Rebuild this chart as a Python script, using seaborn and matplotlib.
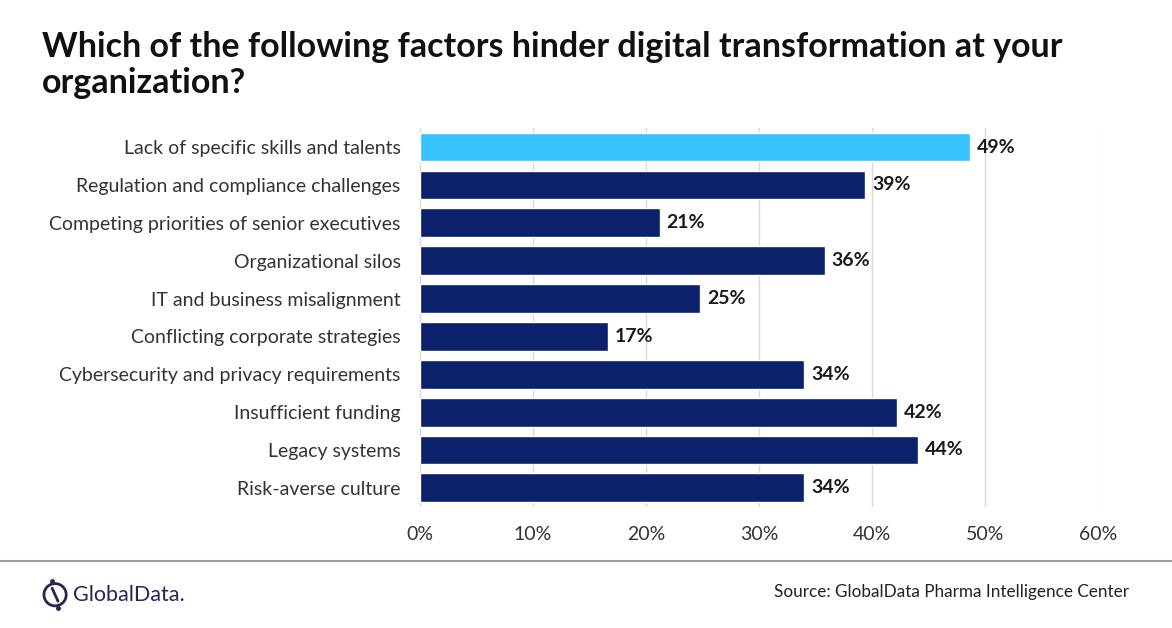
import numpy as np
import pandas as pd
import matplotlib
matplotlib.use("Agg")
import matplotlib.pyplot as plt
import seaborn as sns
from matplotlib.patches import Circle
from matplotlib.lines import Line2D

factors = [
    "Lack of specific skills and talents",
    "Regulation and compliance challenges",
    "Competing priorities of senior executives",
    "Organizational silos",
    "IT and business misalignment",
    "Conflicting corporate strategies",
    "Cybersecurity and privacy requirements",
    "Insufficient funding",
    "Legacy systems",
    "Risk-averse culture",
]
shares = [48.7, 39.4, 21.2, 35.8, 24.8, 16.6, 34.0, 42.2, 44.1, 34.0]
ticks = [0, 10, 20, 30, 40, 50, 60]

df = pd.DataFrame({"factor": factors, "share": shares})
colors = ["#38c2fd"] + ["#0b216b"] * (len(factors) - 1)

sns.set_theme(style="white")
plt.rcParams['font.family'] = ['Lato', 'DejaVu Sans']

fig = plt.figure(figsize=(11.72, 6.28), dpi=100)
ax = fig.add_axes([0.3584, 0.193, 0.5785, 0.603])

sns.barplot(data=df, y="factor", x="share", hue="factor", palette=colors,
            saturation=1, legend=False, width=0.76, ax=ax, orient="h", zorder=3)

ax.set_xlim(0, 60)
ax.set_xticks(ticks)
ax.set_xticklabels([f"{t}%" for t in ticks], fontsize=14, color="#333333")
ax.tick_params(axis="y", labelsize=14, colors="#333333", length=0, pad=14)
ax.tick_params(axis="x", length=0, pad=14)
ax.set_xlabel("")
ax.set_ylabel("")
ax.grid(axis="x", color="#d9d9d9", linewidth=1, zorder=0)
for s in ax.spines.values():
    s.set_visible(False)

for i, v in enumerate(shares):
    ax.text(v + 0.6, i, f"{round(v)}%", va="center", ha="left",
            fontsize=14, fontweight="bold", color="#1a1a1a")

fig.text(0.036, 0.95, "Which of the following factors hinder digital transformation at your\norganization?",
         fontsize=24.5, fontweight="bold", color="#111111", va="top", ha="left", linespacing=1.12)

fig.add_artist(Line2D([0, 1], [0.107, 0.107], color="#9e9e9e", linewidth=1.5, transform=fig.transFigure))

fig.text(0.963, 0.057, "Source: GlobalData Pharma Intelligence Center", fontsize=12.3,
         color="#222222", ha="right", va="center")

# logo
fig.text(0.062, 0.053, "GlobalData.", fontsize=15.5, color="#2f2152", ha="left", va="center")
lax = fig.add_axes([0.034, 0.027, 0.026, 0.052])
lax.set_aspect("equal")
lax.set_xlim(-1.3, 1.3)
lax.set_ylim(-1.3, 1.3)
lax.axis("off")
lax.add_patch(Circle((0, 0), 0.95, fill=False, edgecolor="#2f2152", linewidth=2))
lax.plot([-0.25, 0.25], [0.55, -0.55], color="#2f2152", linewidth=2)
lax.plot([-0.25, 0.25], [1.15, -1.15], "o", color="#2f2152", markersize=2.5)

fig.savefig("out.png", dpi=100)
